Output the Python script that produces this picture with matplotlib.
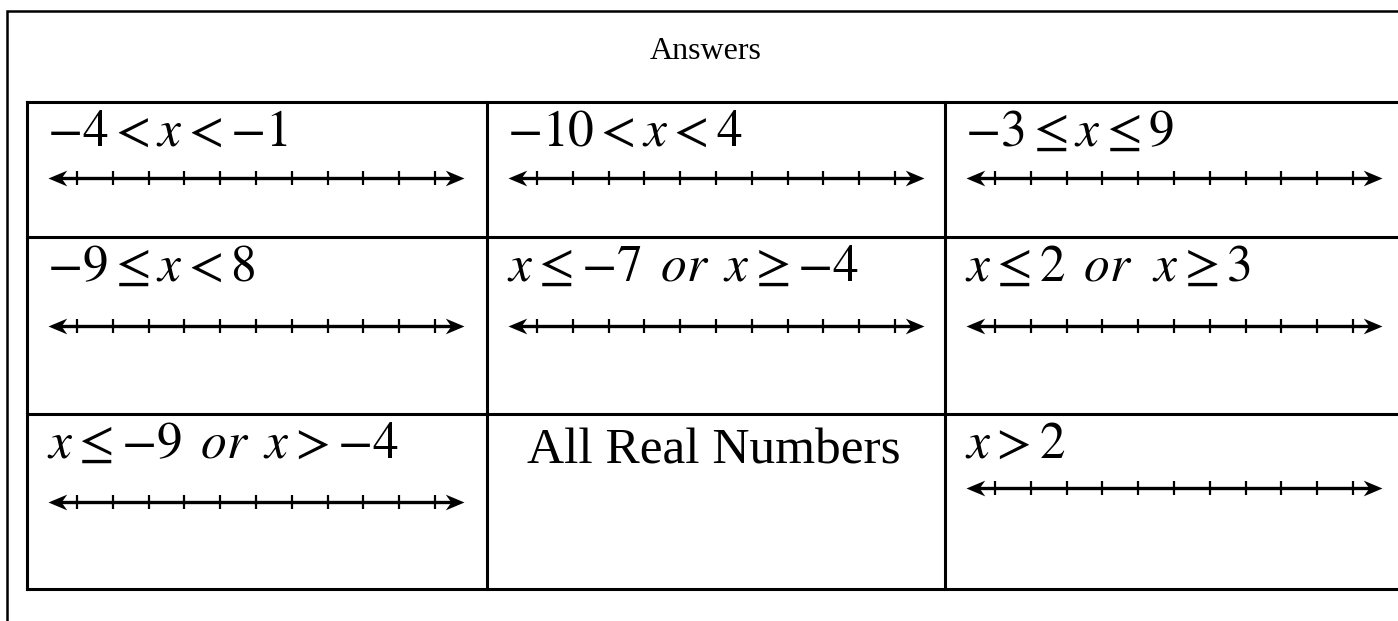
import matplotlib
matplotlib.use("Agg")
import matplotlib.pyplot as plt
from matplotlib.path import Path

plt.rcParams["font.family"] = ["Liberation Serif", "DejaVu Serif"]
plt.rcParams["mathtext.fontset"] = "stix"

# answers, row by row
answers = [
    r"$-4 < x < {-1}$", r"$-10 < x < 4$", r"$-3 \leq x \leq 9$",
    r"$-9 \leq x < 8$", r"$x \leq {-7}\ \,or\ \,x \geq {-4}$", r"$x \leq 2\ \,or\ \ x \geq 3$",
    r"$x \leq {-9}\ \,or\ \,x > {-4}$", "All Real Numbers", r"$x > 2$",
]
has_line = [True, True, True, True, True, True, True, False, True]
tick_values = list(range(-5, 6))
title = "Answers"

W, H = 1398, 621
col_edges = [27, 487, 945, 1400]
row_edges = [102, 237, 414, 589]
# number line centre, pixels below the top of its row
line_offset = [[76, 76, 76], [89, 89, 89], [88, 0, 74]]

fig = plt.figure(figsize=(W / 100, H / 100), dpi=100)
ax = fig.add_axes([0, 0, 1, 1])
ax.set_xlim(0, W)
ax.set_ylim(H, 0)
ax.axis("off")

# outer frame (clipped at right and bottom)
ax.plot([7, 7, W + 5], [H + 5, 11, 11], color="black", lw=1.8, solid_joinstyle="miter")
ax.text(706, 59, title, ha="center", va="baseline", fontsize=23)

# table grid
for y in row_edges:
    ax.plot([col_edges[0], col_edges[-1]], [y, y], color="black", lw=2.2)
for x in col_edges[:-1]:
    ax.plot([x, x], [row_edges[0], row_edges[-1]], color="black", lw=2.2)

stealth = Path([(0, 0), (-1, 0.42), (-0.7, 0), (-1, -0.42), (0, 0)],
               [Path.MOVETO, Path.LINETO, Path.LINETO, Path.LINETO, Path.CLOSEPOLY])
stealth_l = Path([(0, 0), (1, 0.42), (0.7, 0), (1, -0.42), (0, 0)],
                 [Path.MOVETO, Path.LINETO, Path.LINETO, Path.LINETO, Path.CLOSEPOLY])

line_w, line_h = 416, 30
for i, label in enumerate(answers):
    r, c = divmod(i, 3)
    left = col_edges[c]
    top = row_edges[r]
    if label.startswith("$"):
        ax.text(left + 20, top + 44, label, ha="left", va="baseline", fontsize=37)
    else:
        ax.text((left + col_edges[c + 1]) / 2 - 2, top + 49, label, ha="center",
                va="baseline", fontsize=37)
    if not has_line[i]:
        continue
    yc = top + line_offset[r][c]
    nax = fig.add_axes([(left + 21) / W, 1 - (yc + line_h / 2) / H, line_w / W, line_h / H])
    lo, hi = -5.81, 5.81
    nax.set_xlim(lo, hi)
    nax.set_ylim(-1, 1)
    nax.axis("off")
    nax.plot([lo + 0.2, hi - 0.2], [0, 0], color="black", lw=2.4, solid_capstyle="butt")
    nax.vlines(tick_values, -0.45, 0.45, color="black", lw=1.6)
    nax.plot([hi], [0], marker=stealth, ms=27, color="black", mew=0, clip_on=False)
    nax.plot([lo], [0], marker=stealth_l, ms=27, color="black", mew=0, clip_on=False)

fig.savefig("out.png", dpi=100)
